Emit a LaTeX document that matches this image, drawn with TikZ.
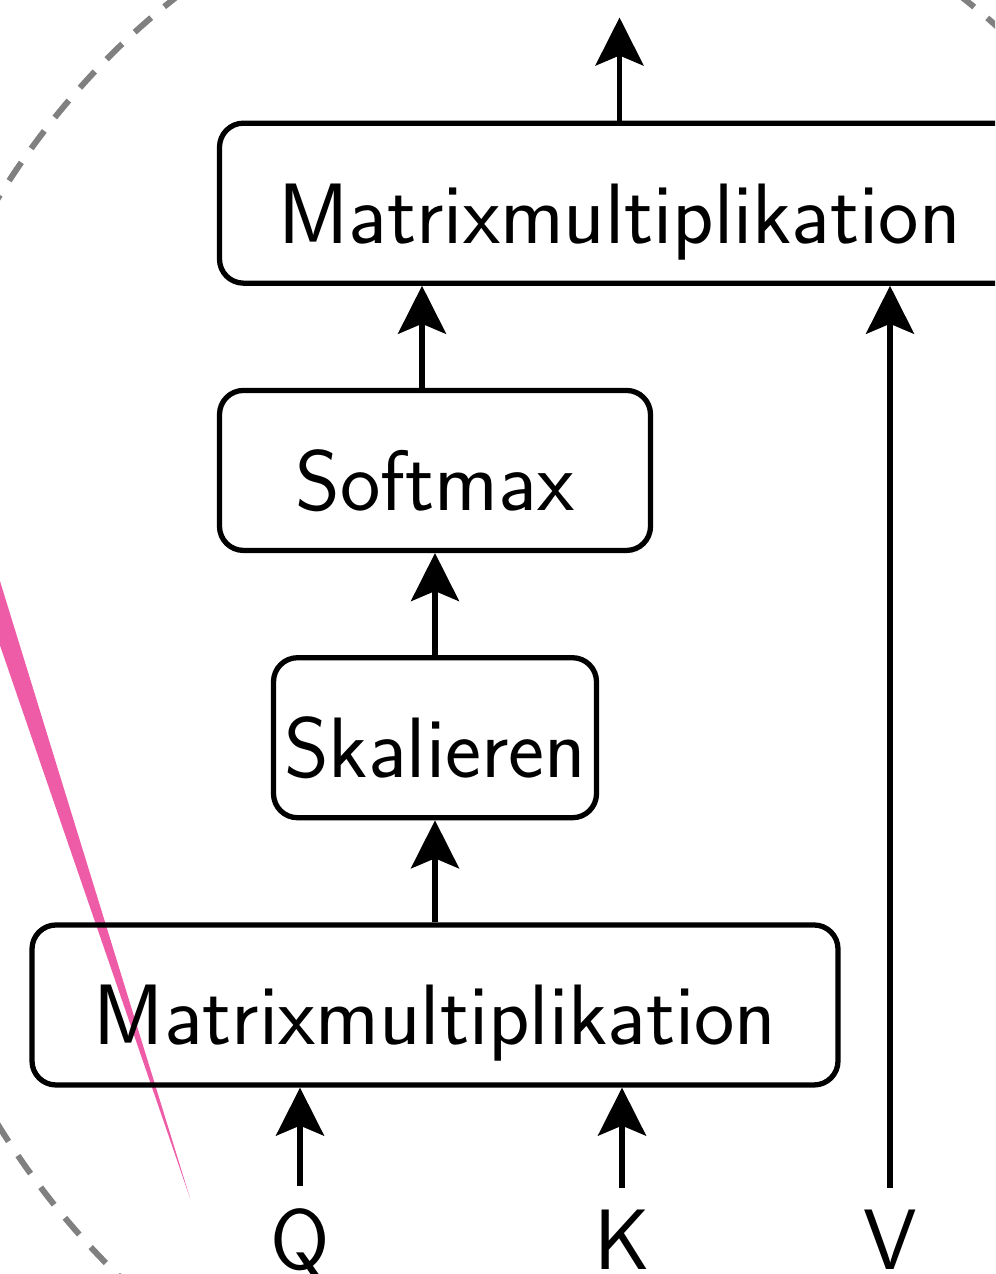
\documentclass[tikz,border=0pt]{standalone}
\usepackage{tikz}
\usetikzlibrary{arrows.meta,positioning}
\definecolor{Pointer}{HTML}{EE5CA8}
\definecolor{Guide}{HTML}{808080}

\begin{document}
\begin{tikzpicture}[>=Stealth,node distance=1.02cm]
    \tikzset{
      block/.style={draw,rounded corners=0.24cm,line width=1.5pt,minimum height=1.60cm,inner sep=0pt,
                    font=\sffamily\fontsize{24.4}{29}\selectfont,text height=0.88cm,text depth=0.08cm},
      inlabel/.style={font=\sffamily\fontsize{24.4}{29}\selectfont,inner sep=0.22cm},
      flow/.style={-{Stealth[length=0.48cm,width=0.48cm,inset=0.1cm]},line width=1.5pt}
    }
    \useasboundingbox (0,0) rectangle (9.95,12.74);
    \clip (0,0) rectangle (9.95,12.74);
    % dashed outline and pointer behind the blocks
    \draw[Guide,line width=0.06cm,dash pattern=on 0.22cm off 0.17cm] (5.69,6.125) ellipse (6.99cm and 8.03cm);
    \fill[Pointer] (1.90,0.76) -- (-0.50,7.74) -- (-0.25,7.74) -- cycle;
    \node[block,minimum width=8.06cm] (mmbot) at (4.35,2.69) {Matrixmultiplikation};
    \node[block,minimum width=3.23cm,above=of mmbot] (skal) {Skalieren};
    \node[block,minimum width=4.31cm,above=of skal] (soft) {Softmax};
    \node[block,minimum width=8.00cm,above=of soft.north west,anchor=south west] (mmtop) {Matrixmultiplikation};
    \node[inlabel,anchor=base] (q) at (3.00,0.04) {Q};
    \node[inlabel,anchor=base] (k) at (6.22,0.04) {K};
    \node[inlabel,anchor=base] (v) at (8.90,0.04) {V};
    \coordinate[above=1.03cm of mmtop.north] (out);
    \draw[flow] (q.north) -- (q.north |- mmbot.south);
    \draw[flow] (k.north) -- (k.north |- mmbot.south);
    \draw[flow] (v.north) -- (v.north |- mmtop.south);
    \draw[flow] (mmbot) -- (skal);
    \draw[flow] (skal) -- (soft);
    \draw[flow] ([xshift=-0.13cm]soft.north) -- ([xshift=-0.13cm]soft.north |- mmtop.south);
    \draw[flow] (mmtop) -- (out);
  \end{tikzpicture}
\end{document}
